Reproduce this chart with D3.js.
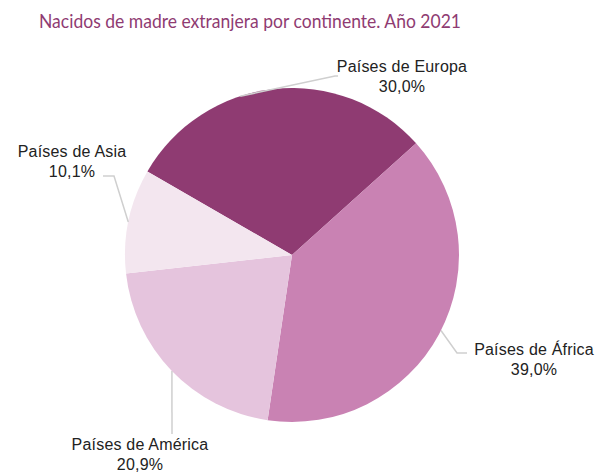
<!DOCTYPE html>
<html lang="es">
<head>
<meta charset="UTF-8">
<title>Nacidos de madre extranjera</title>
<script src="https://d3js.org/d3.v7.min.js"></script>
<style>
    body{ margin: 0; background: #fff; }
    .titulo{ font: 19px Lato, sans-serif; fill: #8f3b72; }
    .etiqueta{ font: 16px "Liberation Sans", Arial, sans-serif; fill: #222; letter-spacing: 0.2px; }
</style>
</head>
<body>
<div id="grafico"></div>
<script>
    const continentes = ['Países de Europa', 'Países de África', 'Países de América', 'Países de Asia']
    const porcentajes = [30.0, 39.0, 20.9, 10.1]
    const colores = ['#8f3b72', '#c982b3', '#e5c4dd', '#f3e6ef']
    const etiquetas = ['30,0%', '39,0%', '20,9%', '10,1%']

    const svg = d3.select('#grafico').append('svg')
        .attr('width', 601)
        .attr('height', 472)

    svg.append('text')
        .attr('class', 'titulo')
        .attr('x', 250)
        .attr('y', 28)
        .attr('text-anchor', 'middle')
        .attr('textLength', 422)
        .attr('lengthAdjust', 'spacingAndGlyphs')
        .text('Nacidos de madre extranjera por continente. Año 2021')

    const cx = 292, cy = 255, r = 167
    const pie = d3.pie().sort(null)
        .startAngle(-60 * Math.PI / 180)
        .endAngle(300 * Math.PI / 180)
    const arcos = pie(porcentajes)
    const arc = d3.arc().innerRadius(0).outerRadius(r)

    const g = svg.append('g').attr('transform', `translate(${cx},${cy})`)
    g.selectAll('path')
        .data(arcos)
        .enter()
        .append('path')
        .attr('d', arc)
        .style('fill', (d, i) => colores[i])

    // lineas guia: angulo en el borde, codo, final y posicion del texto
    const borde = (ang, rr) => [cx + rr * Math.sin(ang), cy - rr * Math.cos(ang)]
    const guias = [
        { ang: -0.315, codo: [335, 76], fin: [338, 76], tx: 402, ty: 72 },
        { ang: 2.04, codo: [457, 353], fin: [467, 353], tx: 534, ty: 355 },
        { ang: 3.944, codo: [172, 434], fin: [172, 434], tx: 140, ty: 450 },
        { ang: 4.911, codo: [114, 176], fin: [103, 176], tx: 72, ty: 157 }
    ]

    guias.forEach((d, i) => {
        const p = borde(d.ang, r)
        svg.append('polyline')
            .attr('points', [p, d.codo, d.fin].map(q => q.join(',')).join(' '))
            .style('fill', 'none')
            .style('stroke', '#cfcfcf')
            .style('stroke-width', 1.5)

        const t = svg.append('text')
            .attr('class', 'etiqueta')
            .attr('text-anchor', 'middle')
            .attr('x', d.tx)
            .attr('y', d.ty)
        t.append('tspan').attr('x', d.tx).text(continentes[i])
        t.append('tspan').attr('x', d.tx).attr('dy', 20).text(etiquetas[i])
    })
</script>
</body>
</html>
